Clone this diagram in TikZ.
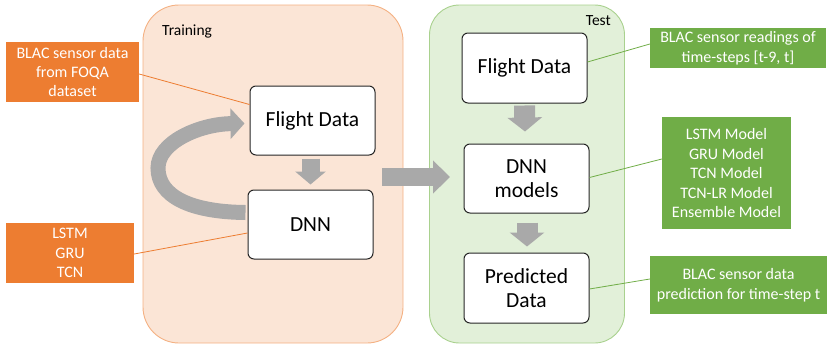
\documentclass[tikz,border=0pt]{standalone}
\usepackage{fontspec}
\setmainfont{Carlito}
\usetikzlibrary{arrows.meta,calc}

\definecolor{offorange}{HTML}{ED7D31}
\definecolor{offgreen}{HTML}{70AD47}
\definecolor{arrowgray}{HTML}{A9A9A9}
\definecolor{trainfill}{HTML}{FBE5D6}
\definecolor{trainedge}{HTML}{F4B183}
\definecolor{testfill}{HTML}{E2F0D9}
\definecolor{testedge}{HTML}{A9D18E}
\definecolor{boxedge}{HTML}{262626}

\tikzset{
  panel/.style={rounded corners=36pt, line width=0.9pt},
  stagebox/.style={draw=boxedge, fill=white, rounded corners=6pt, line width=1pt,
    minimum width=125pt, minimum height=69pt, inner sep=0pt, align=center,
    font=\fontsize{21.5}{24.5}\selectfont},
  notebox/.style={inner sep=0pt, align=center, text=white,
    font=\fontsize{16}{19.5}\selectfont},
  orangenote/.style={notebox, fill=offorange},
  greennote/.style={notebox, fill=offgreen},
  panellabel/.style={font=\fontsize{15.5}{18}\selectfont, inner sep=0pt},
  orangelink/.style={draw=offorange, line width=0.8pt},
  greenlink/.style={draw=offgreen, line width=0.8pt},
  blockdown/.style={draw=arrowgray, line width=18pt,
    -{Triangle[width=30pt,length=13pt]}},
  blockdownwide/.style={draw=arrowgray, line width=21pt,
    -{Triangle[width=34pt,length=14pt]}},
  blockright/.style={draw=arrowgray, line width=18pt,
    -{Triangle[width=32pt,length=17pt]}},
  loopback/.style={draw=arrowgray, line width=15pt,
    -{Triangle[width=30pt,length=14pt]}},
}

\begin{document}
\begin{tikzpicture}[x=1pt, y=-1pt]
  \useasboundingbox (0,0) rectangle (828,346);

  % the two stage panels
  \node[panel, draw=trainedge, fill=trainfill, minimum width=260pt,
        minimum height=338pt, inner sep=0pt] (train) at (273,174) {};
  \node[panel, draw=testedge, fill=testfill, minimum width=195pt,
        minimum height=338pt, inner sep=0pt, rounded corners=30pt] (test) at (527,174) {};
  \node[panellabel, anchor=west] (trainlbl) at (162,31) {Training};
  \node[panellabel, anchor=east] (testlbl) at (611,21) {Test};

  % training stage
  \node[stagebox] (fd1) at (312.5,120.5) {Flight Data};
  \node[stagebox] (dnn1) at (310.5,224.5) {DNN};

  % test stage
  \node[stagebox, minimum height=70pt] (fd2) at (524.5,68) {Flight Data};
  \node[stagebox] (dnn2) at (526.5,178.5) {DNN\\models};
  \node[stagebox, minimum height=70pt] (pd) at (526.5,288) {Predicted\\Data};

  % side notes
  \node[orangenote, minimum width=133pt, minimum height=60pt] (ob1) at (72.5,72)
    {BLAC sensor data\\from FOQA\\dataset};
  \node[orangenote, minimum width=128pt, minimum height=60pt] (ob2) at (70,253)
    {LSTM\\GRU\\TCN};
  \node[greennote, minimum width=176pt, minimum height=40pt] (gb1) at (738,48)
    {BLAC sensor readings of\\time-steps [t-9, t]};
  \node[greennote, minimum width=129pt, minimum height=112pt] (gb2) at (726.5,173)
    {LSTM Model\\GRU Model\\TCN Model\\TCN-LR Model\\Ensemble Model};
  \node[greennote, minimum width=177pt, minimum height=58pt] (gb3) at (738.5,285)
    {BLAC sensor data\\prediction for time-step t};

  % note connectors
  \draw[orangelink] ([yshift=-2pt]ob1.east) -- ([yshift=16pt]fd1.west);
  \draw[orangelink] ([yshift=-1pt]ob2.east) -- ([yshift=-8.5pt]dnn1.west);
  \draw[greenlink] ([yshift=4pt]gb1.west) -- ([yshift=6pt]fd2.east);
  \draw[greenlink] ([yshift=14pt]gb2.west) -- ([yshift=1pt]dnn2.east);
  \draw[greenlink] ([yshift=6pt]gb3.west) -- ([yshift=-1pt]pd.east);

  % block arrows
  \draw[blockdown] ([xshift=-2pt,yshift=-3pt]fd1.south) -- ([yshift=5pt]dnn1.north);
  \draw[blockdownwide] ([yshift=-2pt]fd2.south) -- ([xshift=-1.5pt,yshift=12pt]dnn2.north);
  \draw[blockdownwide] ([xshift=0.5pt,yshift=-9pt]dnn2.south) -- ([xshift=0.5pt,yshift=6pt]pd.north);
  \draw[blockright] ([xshift=-21pt,yshift=-3pt]train.east) -- ([xshift=21pt,yshift=-3pt]test.west);

  % training loop
  \draw[loopback] ([xshift=-2pt,yshift=12pt]dnn1.west)
    .. controls (190,212) and (158,196) .. (158,168)
    .. controls (158,142) and (200,124) .. ([xshift=-5pt,yshift=-3pt]fd1.west);
\end{tikzpicture}
\end{document}
